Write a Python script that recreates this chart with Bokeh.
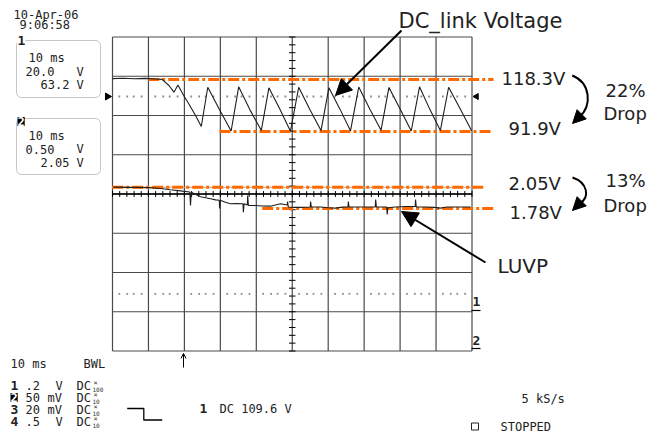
import numpy as np
from bokeh.plotting import figure
from bokeh.models import Range1d, Label, Arrow, NormalHead, OpenHead, BoxAnnotation
from bokeh.embed import file_html
from bokeh.resources import INLINE

# ---------------- data ----------------
ch1_time_ms = [0.0, 3.0, 6.0, 9.0, 12.0, 13.8, 15.7, 17.1, 18.2, 19.8, 21.2, 23.1, 24.7,
               26.5, 29.6, 33.0, 35.1, 38.2, 41.4, 43.5, 46.5, 49.5, 51.8, 54.9, 58.0,
               60.2, 63.2, 66.2, 68.5, 71.6, 74.7, 76.9, 80.0, 83.1, 85.4, 88.3, 91.2,
               93.5, 96.7, 99.9]
ch1_volts = [118.8, 119.0, 118.7, 118.9, 118.6, 118.4, 115.3, 111.9, 115.5, 110.2, 106.0, 100.0, 94.4,
             114.4, 103.6, 92.1, 114.6, 103.0, 92.4, 114.1, 103.4, 92.0, 114.4, 103.1, 92.3,
             114.2, 103.5, 92.2, 114.5, 103.2, 92.5, 114.3, 103.3, 92.1, 114.6, 103.0, 92.3,
             114.4, 103.4, 92.2]

ch2_time_ms = [0.3, 5.0, 10.0, 13.4, 16.1, 18.9, 21.5, 21.7, 21.9, 24.5, 27.3, 28.7, 29.7, 29.8,
               30.0, 31.4, 32.8, 34.5, 36.3, 36.4, 36.6, 37.5, 37.6, 37.8, 39.8, 41.7, 43.9,
               46.7, 48.6, 48.7, 48.9, 50.5, 52.3, 55.0, 55.1, 55.3, 57.9, 60.0, 62.0, 64.0,
               65.5, 65.6, 65.8, 69.0, 73.1, 73.2, 73.4, 76.3, 76.4, 76.6, 78.7, 81.5, 84.2,
               84.3, 84.5, 87.1, 89.5, 91.2, 93.0, 95.4, 99.6]
ch2_volts = [2.052, 2.050, 2.046, 2.035, 2.020, 2.005, 1.990, 1.820, 1.988, 1.930, 1.905, 1.890,
             1.885, 1.780, 1.885, 1.860, 1.840, 1.842, 1.840, 1.733, 1.840, 1.825, 1.946, 1.820,
             1.818, 1.812, 1.810, 1.840, 1.825, 1.870, 1.800, 1.795, 1.795, 1.800, 1.870, 1.800,
             1.800, 1.790, 1.785, 1.798, 1.800, 1.870, 1.800, 1.800, 1.800, 1.895, 1.800, 1.800,
             1.705, 1.790, 1.800, 1.805, 1.805, 1.895, 1.800, 1.800, 1.795, 1.785, 1.800, 1.800,
             1.800]

ch1_levels_v = [118.3, 91.9]
ch2_levels_v = [2.05, 1.78]
ch1_level_labels = ["118.3V", "91.9V"]
ch2_level_labels = ["2.05V", "1.78V"]
drop_labels = ["22%", "13%"]

# ---------------- scope settings ----------------
MS_PER_DIV = 10.0
CH1_V_PER_DIV = 20.0
CH1_ZERO_DIV = -3.0
CH2_V_PER_DIV = 0.5
CH2_ZERO_DIV = -3.93

W, H = 660, 436
GX0, GDX = 112.0, 35.95   # graticule left edge / division width (px)
GY0, GDY = 193.5, 39.25   # graticule centre / division height (px)


def X(px):
    return (px - GX0) / GDX * MS_PER_DIV


def Y(py):
    return (GY0 - py) / GDY


y_lo, y_hi = Y(H), Y(0)
p = figure(width=W, height=H, x_range=Range1d(X(0), X(W)), y_range=Range1d(y_lo, y_hi),
           output_backend="svg", toolbar_location=None, min_border=0,
           x_axis_location=None, y_axis_location=None, outline_line_color=None,
           background_fill_color="white", border_fill_color="white")
p.grid.visible = False
p.extra_y_ranges = {
    "ch1": Range1d((y_lo - CH1_ZERO_DIV) * CH1_V_PER_DIV, (y_hi - CH1_ZERO_DIV) * CH1_V_PER_DIV),
    "ch2": Range1d((y_lo - CH2_ZERO_DIV) * CH2_V_PER_DIV, (y_hi - CH2_ZERO_DIV) * CH2_V_PER_DIV),
}

GRID = "#4a4a4a"
# graticule
vx = [i * MS_PER_DIV for i in range(11)]
p.segment(x0=vx, y0=[-4] * 11, x1=vx, y1=[4] * 11, line_color=GRID, line_width=1.2)
hy = list(range(-4, 5))
p.segment(x0=[0] * 9, y0=hy, x1=[10 * MS_PER_DIV] * 9, y1=hy, line_color=GRID, line_width=1.2)
p.segment(x0=[0], y0=[0], x1=[100], y1=[0], line_color="black", line_width=1.4)
yt = np.arange(-4, 4.001, 0.2)
p.segment(x0=[50 - 0.9] * len(yt), y0=yt, x1=[50 + 0.9] * len(yt), y1=yt, line_color="black", line_width=1)
xt = np.arange(0, 100.1, 2.0)
p.segment(x0=xt, y0=[-0.075] * len(xt), x1=xt, y1=[0.075] * len(xt), line_color="black", line_width=1)

# dotted reference lines
dot_x = [i * 10 + d for i in range(10) for d in (1.9, 4.1, 5.9, 8.1)]
for yy in (Y(96), Y(293.3)):
    p.scatter(dot_x, [yy] * len(dot_x), marker="square", size=1.8, fill_color="#8a8a8a", line_color=None)

# channel markers
p.scatter([X(107)], [Y(96)], marker="triangle", angle=-np.pi / 2, size=7, color="black")
p.scatter([X(476)], [Y(96)], marker="triangle", angle=np.pi / 2, size=6, color="black")

# faint line under 2.05 V level
p.segment(x0=[0], x1=[100], y0=[ch2_levels_v[0]], y1=[ch2_levels_v[0]], y_range_name="ch2",
          line_color="#c9a28c", line_width=1)

# orange measurement levels
OR = "#FF6A00"
p.segment(x0=[X(147.7), X(219)], x1=[X(493), X(490)], y0=ch1_levels_v, y1=ch1_levels_v,
          y_range_name="ch1", line_color=OR, line_width=3, line_dash="11 3 3 3")
p.segment(x0=[X(111.7), X(261.7)], x1=[X(485), X(493)], y0=ch2_levels_v, y1=ch2_levels_v,
          y_range_name="ch2", line_color=OR, line_width=3, line_dash="11 3 3 3")

# traces
p.line(ch1_time_ms, ch1_volts, y_range_name="ch1", line_color="#1e1e1e", line_width=1.1)
p.line(ch2_time_ms, ch2_volts, y_range_name="ch2", line_color="#1e1e1e", line_width=1.1)

# info boxes
for top, bot in ((40, 97), (118, 174)):
    p.add_layout(BoxAnnotation(left=X(16), right=X(100), top=Y(top), bottom=Y(bot),
                               fill_alpha=0, line_color="#444", line_width=1, border_radius=5))

MONO = "DejaVu Sans Mono"
TXT = "#222222"


def lab(text, px, py, size="11.5px", font=MONO, bold=False, color=TXT, align="left", **kw):
    p.add_layout(Label(x=X(px), y=Y(py), text=text, text_font=font, text_font_size=size,
                       text_font_style="bold" if bold else "normal", text_color=color,
                       text_align=align, text_baseline="middle", **kw))


lab("10-Apr-06", 13, 14, size="12px")
lab("9:06:58", 19, 24, size="12px")
lab("1", 17, 40, size="13px", bold=True, background_fill_color="white")
lab("10 ms", 28, 57, size="12px")
lab("20.0", 25, 71, size="12px")
lab("V", 76, 71, size="12px")
lab("63.2", 40, 84, size="12px")
lab("V", 76, 84, size="12px")
lab("2", 17, 121, size="12px", bold=True, color="white", background_fill_color="black")
lab("10 ms", 28, 135, size="12px")
lab("0.50", 25, 148.5, size="12px")
lab("V", 76, 148.5, size="12px")
lab("2.05", 40, 162, size="12px")
lab("V", 76, 162, size="12px")

# right-side channel ground markers
lab("1", 472, 301, size="13px", bold=True)
lab("2", 472, 340, size="13px", bold=True)
p.segment(x0=[X(471), X(471)], x1=[X(480), X(480)], y0=[Y(310), Y(348)], y1=[Y(310), Y(348)],
          line_color="black", line_width=1.2)

# trigger position arrow
p.add_layout(Arrow(end=OpenHead(size=5, line_width=1), x_start=X(183), y_start=Y(367),
                   x_end=X(183), y_end=Y(353), line_width=1, line_color="black"))

# bottom status area
lab("10 ms", 10, 363, size="12px")
lab("BWL", 83, 363, size="12px")
rows = [("1", ".2", "V", 55, "100"), ("2", "50", "mV", 47, "10"), ("3", "20", "mV", 47, "10"),
        ("4", ".5", "V", 55, "10")]
for i, (d, v, u, ux, att) in enumerate(rows):
    cy = 385 + 12 * i
    if d == "2":
        lab(d, 10, cy, size="12px", bold=True, color="white", background_fill_color="black")
    else:
        lab(d, 10, cy, size="13px", bold=True)
    lab(v, 25, cy, size="12px")
    lab(u, ux, cy, size="12px")
    lab("DC", 76, cy, size="12px")
    lab("\u00d7", 93, cy - 3, size="7px", color="#333333")
    lab(att, 92, cy + 3.5, size="6px", color="#333333")

p.line([X(126.7), X(143.3), X(143.3), X(161.7)], [Y(408), Y(408), Y(419.5), Y(419.5)],
       line_color="black", line_width=1.3)
lab("1", 199, 408, size="13px", bold=True)
lab("DC 109.6 V", 219, 408, size="12px")
lab("5 kS/s", 521, 398, size="12px")
p.scatter([X(474.5)], [Y(426)], marker="square", size=7, fill_color="white", line_color="#222")
lab("STOPPED", 500, 426, size="12px")

# annotations
SANS = "DejaVu Sans"
lab("DC_link Voltage", 398, 20, size="21px", font=SANS)
lab(ch1_level_labels[0], 501, 78, size="18px", font=SANS)
lab(ch1_level_labels[1], 508, 128, size="18px", font=SANS)
lab(ch2_level_labels[0], 508, 183, size="18px", font=SANS)
lab(ch2_level_labels[1], 509, 212, size="18px", font=SANS)
lab(drop_labels[0], 605, 90, size="18px", font=SANS)
lab("Drop", 603, 113, size="18px", font=SANS)
lab(drop_labels[1], 605, 180, size="18px", font=SANS)
lab("Drop", 603, 205, size="18px", font=SANS)
lab("LUVP", 497, 265, size="20px", font=SANS)

p.add_layout(Arrow(end=NormalHead(size=16, fill_color="black", line_color="black"),
                   x_start=X(401), y_start=Y(30), x_end=X(335), y_end=Y(95),
                   line_width=2, line_color="black"))
p.add_layout(Arrow(end=NormalHead(size=16, fill_color="black", line_color="black"),
                   x_start=X(485), y_start=Y(262), x_end=X(401), y_end=Y(211),
                   line_width=2, line_color="black"))

# curved "drop" arrows
for (sx, sy, c0x, c0y, c1x, c1y, ex, ey, tx, ty) in (
        (571.7, 75, 590, 82, 592, 106, 579, 116, 572, 123),
        (572, 177, 587, 182, 590, 197, 579, 203, 572, 210)):
    p.bezier(x0=[X(sx)], y0=[Y(sy)], x1=[X(ex)], y1=[Y(ey)], cx0=[X(c0x)], cy0=[Y(c0y)],
             cx1=[X(c1x)], cy1=[Y(c1y)], line_color="black", line_width=2)
    p.add_layout(Arrow(end=NormalHead(size=13, fill_color="black", line_color="black"),
                       x_start=X(ex), y_start=Y(ey), x_end=X(tx), y_end=Y(ty),
                       line_width=2, line_color="black"))

open("out.html", "w").write(file_html(p, INLINE))
